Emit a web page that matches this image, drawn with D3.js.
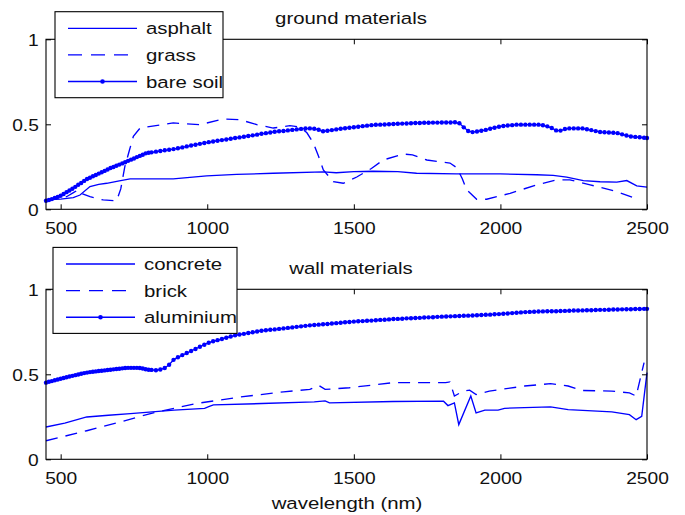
<!DOCTYPE html>
<html>
<head>
<meta charset="utf-8">
<script src="https://cdn.jsdelivr.net/npm/d3@7"></script>
<style>
  body { margin: 0; background: #fff; }
  text { font-family: "Liberation Sans", Arial, sans-serif; fill: #111; }
</style>
</head>
<body>
<div id="chart"></div>
<script>
// tick labels
var xTicks = [500, 1000, 1500, 2000, 2500];
var yTicks = [0, 0.5, 1];

var groundNames = ['asphalt', 'grass', 'bare soil'];
var wallNames = ['concrete', 'brick', 'aluminium'];

// ground materials, [wavelength nm, reflectance]
var asphalt = [[450,.055],[500,.06],[543,.069],[566,.084],[600,.134],[630,.147],[657,.153],[700,.167],[737,.179],
  [800,.179],[884,.179],[998,.197],[1100,.205],[1225,.212],[1396,.22],[1440,.215],[1500,.222],[1566,.224],
  [1650,.222],[1714,.212],[1850,.208],[1999,.208],[2124,.203],[2180,.2],[2226,.189],[2283,.169],[2340,.162],
  [2397,.16],[2431,.169],[2465,.138],[2500,.13]];

var grass = [[450,.055],[520,.074],[545,.1],[560,.114],[575,.09],[600,.074],[645,.055],[691,.05],[705,.12],
  [719,.252],[735,.35],[748,.429],[771,.478],[884,.508],[975,.498],[1055,.531],[1112,.527],[1169,.498],
  [1225,.478],[1282,.492],[1316,.484],[1340,.45],[1362,.39],[1380,.31],[1396,.232],[1430,.163],[1464,.153],
  [1510,.19],[1560,.24],[1600,.29],[1669,.325],[1700,.32],[1749,.29],[1828,.272],[1851,.245],[1870,.18],
  [1885,.114],[1919,.059],[1953,.059],[2033,.094],[2124,.144],[2192,.173],[2237,.173],[2306,.144],
  [2397,.104],[2460,.065]];

var bareSoil = [[450,.050],[460,.055],[470,.060],[480,.067],[490,.073],[500,.080],[510,.090],[520,.101],
  [530,.111],[540,.121],[550,.132],[560,.144],[570,.155],[580,.167],[590,.178],[600,.186],[610,.194],
  [620,.202],[630,.210],[640,.218],[650,.226],[660,.234],[670,.243],[680,.249],[690,.256],[700,.263],
  [710,.270],[720,.277],[730,.285],[740,.292],[750,.299],[760,.307],[770,.314],[780,.321],[790,.329],
  [800,.333],[810,.335],[825,.339],[840,.343],[855,.347],[870,.350],[885,.354],[900,.359],[915,.364],
  [930,.370],[945,.375],[960,.380],[975,.385],[990,.390],[1005,.395],[1020,.399],[1035,.403],[1050,.407],
  [1065,.411],[1080,.415],[1095,.419],[1110,.423],[1125,.427],[1140,.431],[1155,.435],[1170,.439],
  [1185,.444],[1200,.448],[1215,.452],[1230,.456],[1245,.459],[1260,.461],[1275,.464],[1290,.467],
  [1305,.470],[1320,.473],[1335,.475],[1350,.476],[1365,.474],[1380,.468],[1395,.459],[1410,.462],
  [1425,.466],[1440,.470],[1455,.474],[1470,.477],[1485,.480],[1500,.483],[1515,.486],[1530,.489],
  [1545,.492],[1560,.495],[1575,.497],[1590,.498],[1605,.499],[1620,.500],[1635,.502],[1650,.503],
  [1665,.504],[1680,.505],[1695,.506],[1710,.508],[1725,.508],[1740,.509],[1755,.509],[1770,.510],
  [1785,.510],[1800,.511],[1815,.511],[1830,.511],[1845,.512],[1860,.506],[1875,.482],[1890,.461],
  [1905,.454],[1920,.458],[1935,.462],[1950,.467],[1965,.474],[1980,.480],[1995,.486],[2010,.490],
  [2025,.493],[2040,.495],[2055,.498],[2070,.498],[2085,.498],[2100,.498],[2115,.498],[2130,.498],
  [2145,.494],[2160,.488],[2175,.478],[2190,.464],[2205,.463],[2220,.472],[2235,.476],[2250,.476],
  [2265,.476],[2280,.476],[2295,.471],[2310,.466],[2325,.460],[2340,.455],[2355,.453],[2370,.452],
  [2385,.450],[2400,.448],[2415,.441],[2430,.434],[2445,.428],[2460,.426],[2475,.424],[2490,.421],[2500,.419]];

// wall materials
var concrete = [[450,.19],[514,.213],[589,.249],[663,.259],[738,.269],[887,.289],[991,.30],[1005,.31],
  [1021,.32],[1186,.328],[1365,.338],[1402,.344],[1417,.332],[1634,.34],[1806,.342],[1821,.316],
  [1843,.332],[1858,.204],[1899,.372],[1917,.273],[1947,.289],[1992,.289],[2014,.30],[2082,.304],
  [2171,.308],[2231,.292],[2380,.279],[2440,.263],[2463,.233],[2482,.253],[2500,.51]];

var brick = [[450,.109],[589,.168],[708,.222],[813,.272],[962,.328],[1111,.366],[1260,.397],[1350,.411],
  [1380,.435],[1402,.411],[1485,.421],[1634,.451],[1813,.451],[1828,.455],[1843,.372],[1873,.401],
  [1895,.407],[1917,.381],[1962,.401],[2082,.431],[2171,.445],[2231,.431],[2276,.405],[2380,.401],
  [2440,.391],[2463,.372],[2490,.569]];

var aluminium = [[450,.451],[460,.456],[470,.460],[480,.465],[490,.469],[500,.474],[510,.478],[520,.483],
  [530,.487],[540,.491],[550,.495],[560,.499],[570,.503],[580,.507],[590,.510],[600,.513],[610,.515],
  [620,.517],[630,.519],[640,.521],[650,.523],[660,.525],[670,.527],[680,.529],[690,.531],[700,.533],
  [710,.535],[720,.537],[730,.538],[740,.538],[750,.538],[760,.538],[770,.537],[780,.534],[790,.530],
  [800,.527],[810,.526],[825,.524],[840,.528],[855,.537],[870,.556],[885,.585],[900,.600],[915,.613],
  [930,.625],[945,.637],[960,.649],[975,.662],[990,.674],[1005,.686],[1020,.694],[1035,.701],[1050,.708],
  [1065,.715],[1080,.722],[1095,.729],[1110,.734],[1125,.738],[1140,.743],[1155,.747],[1170,.752],
  [1185,.756],[1200,.759],[1215,.762],[1230,.764],[1245,.767],[1260,.770],[1275,.773],[1290,.776],
  [1305,.779],[1320,.782],[1335,.785],[1350,.788],[1365,.790],[1380,.792],[1395,.794],[1410,.796],
  [1425,.799],[1440,.801],[1455,.803],[1470,.806],[1485,.808],[1500,.810],[1515,.812],[1530,.813],
  [1545,.815],[1560,.816],[1575,.818],[1590,.820],[1605,.821],[1620,.823],[1635,.825],[1650,.826],
  [1665,.827],[1680,.829],[1695,.830],[1710,.831],[1725,.832],[1740,.834],[1755,.835],[1770,.836],
  [1785,.838],[1800,.839],[1815,.840],[1830,.841],[1845,.842],[1860,.843],[1875,.844],[1890,.845],
  [1905,.846],[1920,.847],[1935,.849],[1950,.850],[1965,.851],[1980,.853],[1995,.854],[2010,.856],
  [2025,.858],[2040,.860],[2055,.862],[2070,.864],[2085,.866],[2100,.867],[2115,.868],[2130,.869],
  [2145,.870],[2160,.871],[2175,.871],[2190,.871],[2205,.872],[2220,.873],[2235,.874],[2250,.875],
  [2265,.875],[2280,.876],[2295,.877],[2310,.877],[2325,.878],[2340,.879],[2355,.879],[2370,.880],
  [2385,.881],[2400,.881],[2415,.882],[2430,.883],[2445,.883],[2460,.884],[2475,.884],[2490,.885],[2500,.885]];

var width = 685, height = 515;
var blue = '#0000ff';
var sx = 'scale(1.2,1)'; // glyphs in the picture are stretched horizontally

var svg = d3.select('#chart').append('svg')
    .attr('width', width)
    .attr('height', height);

var x = d3.scaleLinear().domain([450, 2500]).range([46, 647]);

function drawPanel(top, title, titleY, names, data, legend) {
    var bottom = top + 170;
    var y = d3.scaleLinear().domain([0, 1]).range([bottom, top]);
    var g = svg.append('g');

    var line = d3.line()
        .x(d => x(d[0]))
        .y(d => y(d[1]));

    data.forEach((d, i) => {
        g.append('path')
            .datum(d)
            .attr('d', line)
            .attr('fill', 'none')
            .attr('stroke', blue)
            .attr('stroke-width', 1.35)
            .attr('stroke-dasharray', i == 1 ? '12,8' : null);
        if (i == 2) {
            g.append('g').selectAll('circle')
                .data(d)
                .enter().append('circle')
                .attr('cx', p => x(p[0]))
                .attr('cy', p => y(p[1]))
                .attr('r', 2.2)
                .attr('fill', blue);
        }
    });

    // axes, ticks pointing inward
    var xa = g.append('g').attr('transform', 'translate(0,' + bottom + ')')
        .call(d3.axisBottom(x).tickValues(xTicks).tickSize(-5).tickPadding(13).tickFormat(d3.format('')));
    g.append('g').attr('transform', 'translate(0,' + top + ')')
        .call(d3.axisTop(x).tickValues(xTicks).tickSize(-5).tickFormat(''));
    var ya = g.append('g').attr('transform', 'translate(46,0)')
        .call(d3.axisLeft(y).tickValues(yTicks).tickSize(-5).tickPadding(6).tickFormat(d3.format('')));
    g.append('g').attr('transform', 'translate(647,0)')
        .call(d3.axisRight(y).tickValues(yTicks).tickSize(-5).tickFormat(''));

    g.selectAll('.domain').remove();
    g.selectAll('.tick line').attr('stroke', '#000');
    [xa, ya].forEach(a => {
        a.attr('font-size', null).attr('font-family', null);
        a.selectAll('text').style('font-size', '16px').attr('fill', '#111').attr('transform', sx);
    });
    ya.selectAll('text').attr('dy', '0.36em');

    g.append('rect')
        .attr('x', 46).attr('y', top)
        .attr('width', 601).attr('height', 170)
        .attr('fill', 'none')
        .attr('stroke', '#000')
        .attr('stroke-width', 1.1);

    g.append('text')
        .attr('transform', 'translate(351,' + titleY + ') ' + sx)
        .attr('text-anchor', 'middle')
        .style('font-size', '17px')
        .text(title);

    // legend
    var lg = g.append('g');
    lg.append('rect')
        .attr('x', legend.x).attr('y', legend.y)
        .attr('width', legend.w).attr('height', 86)
        .attr('fill', '#fff')
        .attr('stroke', '#000')
        .attr('stroke-width', 1.1);
    names.forEach((n, i) => {
        var ry = legend.y + 16.6 + i * 26.6;
        lg.append('line')
            .attr('x1', legend.x + 13).attr('x2', legend.x + 82)
            .attr('y1', ry).attr('y2', ry)
            .attr('stroke', blue)
            .attr('stroke-width', 1.35)
            .attr('stroke-dasharray', i == 1 ? '14,9' : null);
        if (i == 2) {
            lg.append('circle')
                .attr('cx', legend.x + 47.5).attr('cy', ry)
                .attr('r', 2.3).attr('fill', blue);
        }
        lg.append('text')
            .attr('transform', 'translate(' + (legend.x + 91) + ',' + (ry + 6) + ') ' + sx)
            .style('font-size', '17px')
            .text(n);
    });
}

drawPanel(39.3, 'ground materials', 24, groundNames, [asphalt, grass, bareSoil], {x: 55, y: 11.7, w: 168});
drawPanel(289.3, 'wall materials', 274, wallNames, [concrete, brick, aluminium], {x: 53, y: 247.4, w: 184});

svg.append('text')
    .attr('transform', 'translate(347,509) ' + sx)
    .attr('text-anchor', 'middle')
    .style('font-size', '17px')
    .text('wavelength (nm)');
</script>
</body>
</html>
